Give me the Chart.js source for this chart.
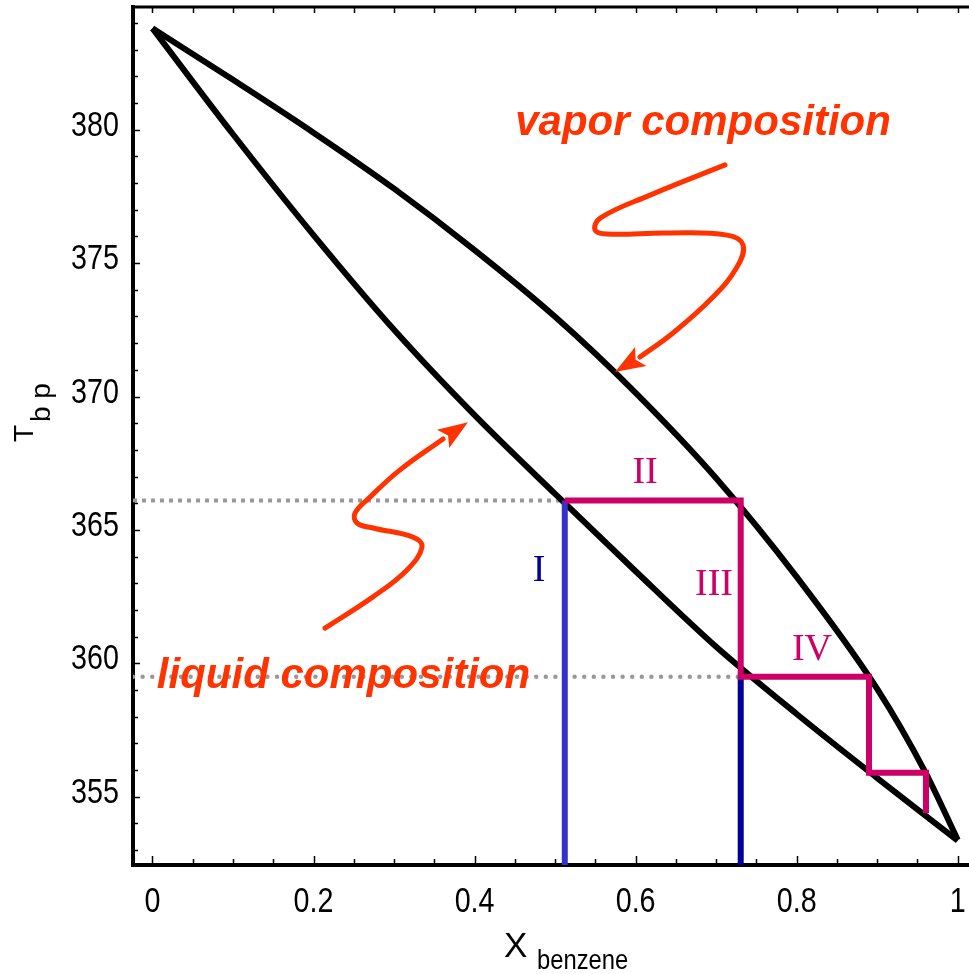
<!DOCTYPE html>
<html>
<head>
<meta charset="utf-8">
<title>Boiling point diagram - benzene / toluene</title>
<script src="https://cdn.jsdelivr.net/npm/chart.js@4.4.1/dist/chart.umd.min.js"></script>
<style>
    html, body { margin: 0; padding: 0; background: #fff; }
    canvas { display: block; }
</style>
</head>
<body>
<canvas id="chart" width="969" height="974"></canvas>
<script>
// ---- Data (mole fraction of benzene vs boiling temperature, K) ----

// liquid composition (lower curve)
const LIQUID_X = [0, 0.1, 0.2, 0.3, 0.4, 0.5, 0.6, 0.7, 0.8, 0.9, 1];
const LIQUID_T = [383.8, 379.83, 376.05, 372.5, 369.3, 366.35, 363.45, 360.62, 358.1, 355.7, 353.35];

// vapor composition (upper curve)
const VAPOR_X = [0, 0.1, 0.2, 0.3, 0.4, 0.5, 0.6, 0.7, 0.8, 0.9, 0.96, 1];
const VAPOR_T = [383.8, 381.87, 379.89, 377.79, 375.49, 372.99, 370.14, 366.94, 363.24, 359.04, 355.9, 353.38];

// distillation staircase
const STEP_X = [0.512, 0.7305, 0.7305, 0.8898, 0.8898, 0.9606, 0.9606];
const STEP_T = [366.1, 366.1, 359.5, 359.5, 355.9, 355.9, 354.38];

// vertical composition lines (I and the second one)
const DROP_X = [0.512, 0.7305];
const DROP_T = [366.1, 359.5];

// roman numeral labels
const NUMERAL_TEXT = ['I', 'II', 'III', 'IV'];
const NUMERAL_X = [0.480, 0.6117, 0.6973, 0.819];
const NUMERAL_T = [363.10, 366.75, 362.56, 360.12];

// annotation texts
const NOTE_TEXT = ['vapor composition', 'liquid composition'];
const NOTE_X = [0.6837, 0.2372];
const NOTE_T = [379.80, 359.07];

// squiggly arrows (shaft points, then tip)
const VAPOR_ARROW_X = [0.711, 0.618, 0.556, 0.5496, 0.5644, 0.639, 0.7135, 0.7334, 0.7259, 0.6961, 0.6464, 0.6054];
const VAPOR_ARROW_T = [378.68, 377.55, 376.69, 376.24, 376.09, 376.13, 376.05, 375.68, 374.85, 373.73, 372.38, 371.48];
const VAPOR_ARROW_TIP = [0.5744, 370.92];

const LIQUID_ARROW_X = [0.2142, 0.2738, 0.3161, 0.3347, 0.3235, 0.2738, 0.2539, 0.2515, 0.2701, 0.3074, 0.3608];
const LIQUID_ARROW_T = [361.32, 362.49, 363.50, 364.36, 364.73, 365.07, 365.26, 365.63, 366.23, 367.25, 368.41];
const LIQUID_ARROW_TIP = [0.3918, 369.04];

// axes
const X_MIN = -0.0242, X_MAX = 1.014;
const T_MIN = 352.44, T_MAX = 384.6;
const X_TICKS = [0, 0.2, 0.4, 0.6, 0.8, 1];
const T_TICKS = [355, 360, 365, 370, 375, 380];

// ---- helpers ----

const SANS = '"Liberation Sans", Arial, Helvetica, sans-serif';
const RED = '#ff3300';
const MAGENTA = '#cc0066';

function pts(xs, ys) {
    return xs.map((x, i) => ({ x, y: ys[i] }));
}

function line(data, color, width, extra) {
    return Object.assign({
        data,
        showLine: true,
        borderColor: color,
        backgroundColor: color,
        borderWidth: width,
        pointRadius: 0,
        tension: 0,
        fill: false
    }, extra || {});
}

const datasets = [
    line(pts(VAPOR_ARROW_X, VAPOR_ARROW_T), RED, 5, { tension: 0.4, borderCapStyle: 'round', order: 0 }),
    line(pts(LIQUID_ARROW_X, LIQUID_ARROW_T), RED, 5, { tension: 0.4, borderCapStyle: 'round', order: 0 }),
    line(pts(STEP_X, STEP_T), MAGENTA, 6, { borderJoinStyle: 'miter', order: 1 }),
    line([{ x: DROP_X[0], y: DROP_T[0] }, { x: DROP_X[0], y: T_MIN }], '#3333cc', 6, { order: 2 }),
    line([{ x: DROP_X[1], y: DROP_T[1] }, { x: DROP_X[1], y: T_MIN }], '#000099', 6, { order: 2 }),
    line(pts(LIQUID_X, LIQUID_T), '#000', 6, { cubicInterpolationMode: 'monotone', order: 3 }),
    line(pts(VAPOR_X, VAPOR_T), '#000', 6, { cubicInterpolationMode: 'monotone', order: 3 }),
    line([{ x: X_MIN, y: DROP_T[0] }, { x: DROP_X[0], y: DROP_T[0] }], '#999', 4, { borderDash: [4, 5], order: 4 }),
    line([{ x: X_MIN, y: DROP_T[1] }, { x: DROP_X[1], y: DROP_T[1] }], '#999', 4.5, { borderDash: [0, 9.6], borderCapStyle: 'round', order: 4 })
];

function drawArrowHead(ctx, x, y, xs, ys, tip) {
    const last = xs.length - 1;
    const bx = x.getPixelForValue(xs[last]), by = y.getPixelForValue(ys[last]);
    const tx = x.getPixelForValue(tip[0]), ty = y.getPixelForValue(tip[1]);
    const len = Math.hypot(tx - bx, ty - by);
    const dx = (tx - bx) / len, dy = (ty - by) / len;
    const L = 30, W = 11;
    ctx.beginPath();
    ctx.moveTo(tx, ty);
    ctx.lineTo(tx - dx * L - dy * W, ty - dy * L + dx * W);
    ctx.lineTo(tx - dx * L * 0.8, ty - dy * L * 0.8);
    ctx.lineTo(tx - dx * L + dy * W, ty - dy * L - dx * W);
    ctx.closePath();
    ctx.fill();
}

// condensed text: the original uses a narrow Helvetica
function narrowText(ctx, text, px, py, sx) {
    ctx.save();
    ctx.translate(px, py);
    ctx.scale(sx, 1);
    ctx.fillText(text, 0, 0);
    ctx.restore();
}

const decorations = {
    id: 'decorations',
    afterDraw(chart) {
        const { ctx, chartArea: a, scales: { x, y } } = chart;
        ctx.save();

        // top frame line
        ctx.strokeStyle = '#000';
        ctx.lineWidth = 3;
        ctx.beginPath();
        ctx.moveTo(a.left, a.top);
        ctx.lineTo(a.right, a.top);
        ctx.stroke();

        // inward tick marks
        ctx.lineWidth = 1.5;
        ctx.beginPath();
        for (let i = 0; i <= 20; i++) {
            const px = Math.round(x.getPixelForValue(i * 0.05)) + 0.5;
            const major = i % 4 === 0;
            ctx.moveTo(px, a.bottom);
            ctx.lineTo(px, a.bottom - (major ? 9 : 6));
            ctx.moveTo(px, a.top);
            ctx.lineTo(px, a.top + 6);
        }
        for (let t = 353; t <= 384; t++) {
            const py = Math.round(y.getPixelForValue(t)) + 0.5;
            ctx.moveTo(a.left, py);
            ctx.lineTo(a.left + (t % 5 === 0 ? 7 : 5), py);
        }
        ctx.stroke();

        // tick labels
        ctx.fillStyle = '#000';
        ctx.font = '35px ' + SANS;
        ctx.textBaseline = 'alphabetic';
        ctx.textAlign = 'center';
        X_TICKS.forEach(v => narrowText(ctx, String(v), x.getPixelForValue(v), a.bottom + 47, 0.82));
        ctx.textAlign = 'right';
        T_TICKS.forEach(v => narrowText(ctx, String(v), a.left - 14, y.getPixelForValue(v) + 6, 0.82));

        // axis titles
        ctx.textAlign = 'left';
        ctx.font = '35px ' + SANS;
        ctx.fillText('X', 504, a.bottom + 92);
        ctx.font = '28px ' + SANS;
        narrowText(ctx, 'benzene', 537, a.bottom + 104, 0.85);

        ctx.save();
        ctx.translate(33, 442);
        ctx.rotate(-Math.PI / 2);
        ctx.font = '28px ' + SANS;
        ctx.fillText('T', 0, 0);
        ctx.fillText('b p', 20, 17);
        ctx.restore();

        // arrow heads
        ctx.fillStyle = RED;
        drawArrowHead(ctx, x, y, VAPOR_ARROW_X, VAPOR_ARROW_T, VAPOR_ARROW_TIP);
        drawArrowHead(ctx, x, y, LIQUID_ARROW_X, LIQUID_ARROW_T, LIQUID_ARROW_TIP);

        // annotation texts
        ctx.textAlign = 'center';
        ctx.font = 'italic bold 42px ' + SANS;
        NOTE_TEXT.forEach((t, i) => {
            ctx.fillText(t, x.getPixelForValue(NOTE_X[i]), y.getPixelForValue(NOTE_T[i]));
        });

        // roman numerals
        ctx.font = '38px "Liberation Serif", "Times New Roman", serif';
        NUMERAL_TEXT.forEach((t, i) => {
            ctx.fillStyle = i === 0 ? '#000099' : MAGENTA;
            ctx.fillText(t, x.getPixelForValue(NUMERAL_X[i]), y.getPixelForValue(NUMERAL_T[i]));
        });

        ctx.restore();
    }
};

new Chart(document.getElementById('chart'), {
    type: 'scatter',
    data: { datasets },
    options: {
        responsive: false,
        devicePixelRatio: 1,
        animation: false,
        layout: { autoPadding: false, padding: { left: 0, right: 0, top: 7, bottom: 0 } },
        plugins: { legend: { display: false }, tooltip: { enabled: false } },
        scales: {
            x: {
                type: 'linear',
                min: X_MIN,
                max: X_MAX,
                afterFit: (s) => {
                    s.height = 109;
                    s.paddingLeft = s.paddingRight = s.paddingTop = s.paddingBottom = 0;
                },
                afterBuildTicks: (s) => { s.ticks = X_TICKS.map(v => ({ value: v })); },
                grid: { drawOnChartArea: false, drawTicks: false },
                border: { display: true, color: '#000', width: 4 },
                ticks: { display: false }
            },
            y: {
                type: 'linear',
                min: T_MIN,
                max: T_MAX,
                afterFit: (s) => {
                    s.width = 133;
                    s.paddingLeft = s.paddingRight = s.paddingTop = s.paddingBottom = 0;
                },
                afterBuildTicks: (s) => { s.ticks = T_TICKS.map(v => ({ value: v })); },
                grid: { drawOnChartArea: false, drawTicks: false },
                border: { display: true, color: '#000', width: 4 },
                ticks: { display: false }
            }
        }
    },
    plugins: [decorations]
});
</script>
</body>
</html>
